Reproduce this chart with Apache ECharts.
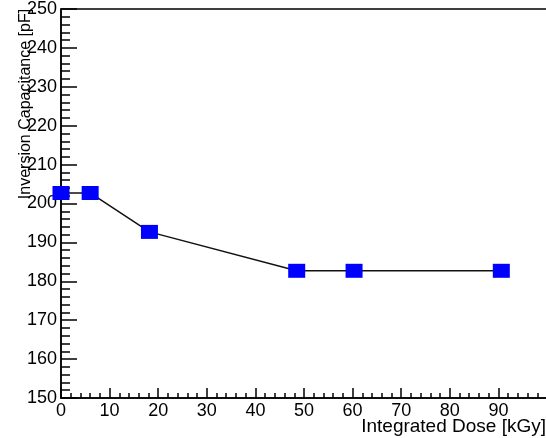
<!DOCTYPE html>
<html>
<head>
<meta charset="utf-8">
<script src="https://cdn.jsdelivr.net/npm/echarts@6/dist/echarts.min.js"></script>
<style>html,body{margin:0;padding:0;background:#fff;overflow:hidden;}#c{width:550px;height:438px;}</style>
</head>
<body>
<div id="c"></div>
<script>
var doseValues = [0, 6.0, 18.2, 48.5, 60.3, 90.6];
var capValues = [202.7, 202.7, 192.7, 182.7, 182.7, 182.7];
var xTitle = 'Integrated Dose [kGy]';
var yTitle = 'Inversion Capacitance [pF]';

var points = doseValues.map(function (d, i) { return [d, capValues[i]]; });
var chart = echarts.init(document.getElementById('c'), null, {renderer: 'canvas'});
var font = 'Liberation Sans, Arial, Helvetica, sans-serif';
chart.setOption({
  animation: false,
  backgroundColor: '#fff',
  grid: {left: 61, top: 9, right: 0, bottom: 40, show: true, borderColor: '#000', borderWidth: 1.5, backgroundColor: 'transparent'},
  xAxis: {
    type: 'value', min: 0, max: 100, interval: 10,
    axisLine: {show: true, onZero: false, lineStyle: {color: '#000', width: 1.5}},
    axisTick: {show: true, inside: true, length: 10, lineStyle: {color: '#000', width: 1.5}},
    minorTick: {show: true, splitNumber: 5, length: 5, lineStyle: {color: '#000', width: 1.5}},
    splitLine: {show: false},
    axisLabel: {color: '#000', fontFamily: font, fontSize: 18, margin: 4,
      formatter: function (v) { return v >= 100 ? '' : String(v); }}
  },
  yAxis: {
    type: 'value', min: 150, max: 250, interval: 10,
    axisLine: {show: true, onZero: false, lineStyle: {color: '#000', width: 1.5}},
    axisTick: {show: true, inside: true, length: 16, lineStyle: {color: '#000', width: 1.5}},
    minorTick: {show: true, splitNumber: 5, length: 9, lineStyle: {color: '#000', width: 1.5}},
    splitLine: {show: false},
    axisLabel: {color: '#000', fontFamily: font, fontSize: 18, margin: 4}
  },
  graphic: [
    {type: 'text', x: 546, y: 427, z: 10,
      style: {text: xTitle, font: '19px ' + font, fill: '#000', textAlign: 'right', textVerticalAlign: 'middle'}},
    {type: 'text', x: 26, y: 104, rotation: Math.PI / 2, z: 10,
      style: {text: yTitle, font: '16px ' + font, fill: '#000', textAlign: 'center', textVerticalAlign: 'middle'}}
  ],
  series: [{
    type: 'line',
    data: points,
    clip: false,
    symbol: 'rect',
    symbolSize: [17, 14],
    itemStyle: {color: '#0000ff'},
    lineStyle: {color: '#111', width: 1.5},
    z: 5
  }]
});
</script>
</body>
</html>
